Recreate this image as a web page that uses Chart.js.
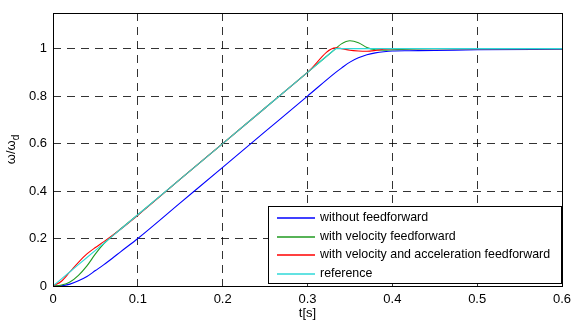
<!DOCTYPE html>
<html lang="en">
<head>
    <title>Speed response</title>
    <script src="https://cdn.jsdelivr.net/npm/chart.js"></script>
    <style>
        body {
            margin: 0;
            background: #ffffff;
        }
        canvas {
            display: block;
        }
    </style>
</head>
<body>
    <canvas id="responseChart" width="571" height="322"></canvas>

    <script>
        // time samples [s]
        const time = [0, 0.01, 0.02, 0.03, 0.04, 0.05, 0.06, 0.07, 0.08, 0.1, 0.15, 0.2, 0.25, 0.3, 0.3333,
                      0.34, 0.35, 0.36, 0.37, 0.38, 0.39, 0.4, 0.42, 0.45, 0.5, 0.6];

        // normalised speed w/wd for each controller
        const withoutFF = [0, 0.001, 0.008, 0.022, 0.04, 0.065, 0.09, 0.117, 0.145, 0.2, 0.35, 0.5, 0.65, 0.8, 0.9,
                           0.918, 0.943, 0.961, 0.974, 0.982, 0.987, 0.99, 0.991, 0.992, 0.995, 0.997];
        const velocityFF = [0, 0.004, 0.017, 0.045, 0.085, 0.135, 0.178, 0.211, 0.241, 0.3, 0.45, 0.6, 0.75, 0.9, 1.0,
                            1.02, 1.033, 1.025, 1.005, 0.995, 0.993, 0.995, 0.998, 1.0, 1.0, 1.0];
        const velAccFF = [0, 0.02, 0.06, 0.1, 0.135, 0.162, 0.187, 0.213, 0.24, 0.298, 0.45, 0.6, 0.75, 0.9, 1.003,
                          1.0, 0.993, 0.99, 0.989, 0.992, 0.997, 1.0, 1.0, 1.0, 1.0, 1.0];
        const reference = [0, 0.03, 0.06, 0.09, 0.12, 0.15, 0.18, 0.21, 0.24, 0.3, 0.45, 0.6, 0.75, 0.9, 1.0,
                           1.0, 1.0, 1.0, 1.0, 1.0, 1.0, 1.0, 1.0, 1.0, 1.0, 1.0];

        const seriesNames = ['without feedforward', 'with velocity feedforward',
                             'with velocity and acceleration feedforward', 'reference'];
        const seriesColors = ['#0000ff', '#1f9a1f', '#ff0000', '#2fd8d8'];

        const xTicks = [0, 0.1, 0.2, 0.3, 0.4, 0.5, 0.6];
        const yTicks = [0, 0.2, 0.4, 0.6, 0.8, 1];

        const toPoints = values => values.map((v, i) => ({ x: time[i], y: v }));
        const allSeries = [withoutFF, velocityFF, velAccFF, reference];

        const fontFamily = "'Liberation Sans', Arial, Helvetica, sans-serif";

        // box, axis titles and the legend drawn MATLAB-style
        const decorations = {
            id: 'decorations',
            afterDraw(chart) {
                const ctx = chart.ctx;
                const a = chart.chartArea;
                ctx.save();

                ctx.strokeStyle = '#000';
                ctx.lineWidth = 1;
                ctx.setLineDash([]);
                ctx.strokeRect(Math.round(a.left) + 0.5, Math.round(a.top) + 0.5,
                               Math.round(a.right - a.left), Math.round(a.bottom - a.top));

                ctx.fillStyle = '#000';
                ctx.font = '13px ' + fontFamily;
                ctx.textAlign = 'center';
                ctx.textBaseline = 'middle';
                ctx.fillText('t[s]', (a.left + a.right) / 2, 313);

                ctx.save();
                ctx.translate(12.5, (a.top + a.bottom) / 2);
                ctx.rotate(-Math.PI / 2);
                ctx.textAlign = 'left';
                const main = 'ω/ω';
                const mw = ctx.measureText(main).width;
                ctx.font = '10px ' + fontFamily;
                const sw = ctx.measureText('d').width;
                const x0 = -(mw + sw) / 2;
                ctx.font = '13px ' + fontFamily;
                ctx.fillText(main, x0, -1);
                ctx.font = '10px ' + fontFamily;
                ctx.fillText('d', x0 + mw, 4);
                ctx.restore();

                // legend
                const lx = 268.5, ly = 206.5, lw = 293, lh = 77;
                ctx.fillStyle = '#fff';
                ctx.fillRect(lx, ly, lw, lh);
                ctx.strokeStyle = '#000';
                ctx.strokeRect(lx, ly, lw, lh);
                ctx.font = '12.4px ' + fontFamily;
                ctx.textAlign = 'left';
                ctx.textBaseline = 'middle';
                const rows = [217.5, 236.5, 255, 273.5];
                seriesNames.forEach((name, i) => {
                    ctx.strokeStyle = seriesColors[i];
                    ctx.lineWidth = 1.4;
                    ctx.beginPath();
                    ctx.moveTo(277, Math.round(rows[i]));
                    ctx.lineTo(315, Math.round(rows[i]));
                    ctx.stroke();
                    ctx.fillStyle = '#000';
                    ctx.fillText(name, 320, rows[i]);
                });

                ctx.restore();
            }
        };

        new Chart(document.getElementById('responseChart'), {
            type: 'line',
            data: {
                datasets: allSeries.map((values, i) => ({
                    label: seriesNames[i],
                    data: toPoints(values),
                    borderColor: seriesColors[i],
                    borderWidth: 1.1,
                    pointRadius: 0,
                    fill: false,
                    cubicInterpolationMode: i === 3 ? 'default' : 'monotone',
                    tension: i === 3 ? 0 : 0.4,
                    order: 4 - i
                }))
            },
            options: {
                responsive: false,
                animation: false,
                events: [],
                layout: {
                    padding: { top: 13, right: 9, left: 0, bottom: 0 }
                },
                plugins: {
                    legend: { display: false },
                    tooltip: { enabled: false }
                },
                scales: {
                    x: {
                        type: 'linear',
                        min: 0,
                        max: 0.6,
                        afterFit: scale => {
                            scale.height = 36;
                            scale.paddingLeft = 0;
                            scale.paddingRight = 0;
                        },
                        afterBuildTicks: scale => { scale.ticks = xTicks.map(v => ({ value: v })); },
                        ticks: {
                            padding: 6,
                            color: '#000',
                            font: { family: fontFamily, size: 13 },
                            maxRotation: 0,
                            callback: v => String(+v.toFixed(2))
                        },
                        grid: {
                            color: 'rgba(0,0,0,0.8)',
                            lineWidth: 1,
                            drawTicks: false
                        },
                        border: { display: false, dash: [8, 6] }
                    },
                    y: {
                        min: 0,
                        max: 1.15,
                        afterFit: scale => {
                            scale.width = 53;
                            scale.paddingTop = 0;
                            scale.paddingBottom = 0;
                        },
                        afterBuildTicks: scale => { scale.ticks = yTicks.map(v => ({ value: v })); },
                        ticks: {
                            padding: 6,
                            color: '#000',
                            font: { family: fontFamily, size: 13 },
                            callback: v => String(+v.toFixed(2))
                        },
                        grid: {
                            color: 'rgba(0,0,0,0.8)',
                            lineWidth: 1,
                            drawTicks: false
                        },
                        border: { display: false, dash: [8, 6] }
                    }
                }
            },
            plugins: [decorations]
        });
    </script>
</body>
</html>
